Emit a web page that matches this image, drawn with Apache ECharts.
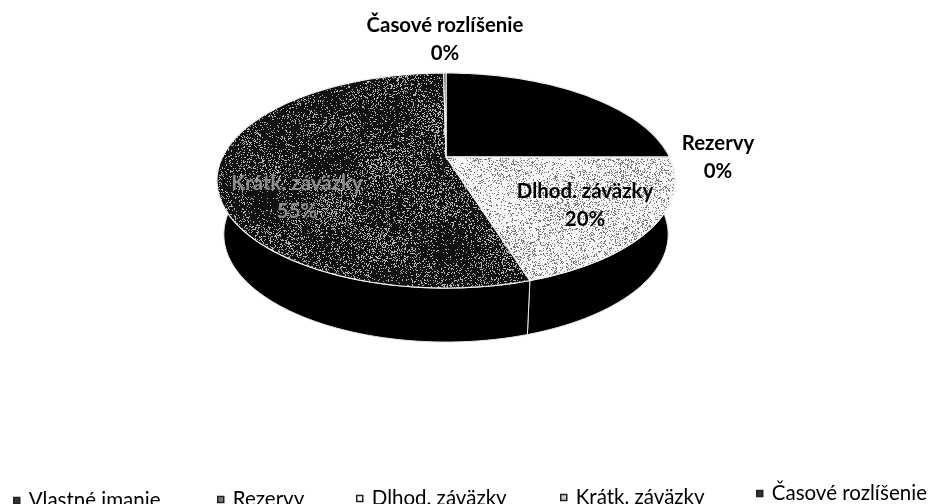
<!DOCTYPE html>
<html>
<head>
<meta charset="utf-8">
<style>
html, body { margin: 0; padding: 0; background: #fff; }
#chart { width: 928px; height: 504px; }
</style>
<script src="https://cdn.jsdelivr.net/npm/echarts@6/dist/echarts.min.js"></script>
</head>
<body>
<div id="chart"></div>
<script>
var categories = ['Vlastné imanie', 'Rezervy', 'Dlhod. záväzky', 'Krátk. záväzky', 'Časové rozlíšenie'];
var shares = [25, 0.2, 20, 54.6, 0.2];

var FONT = 'Lato';
var BOLD_SIZE = 20.4;
var LEGEND_SIZE = 20.5;

// tilted disc: apex of the slices, radii and perspective
var PIE = { x: 446, y: 157, a: 223.5, b: 102.4, k: 0.2186, depth: 54, shrink: 0.97 };

// scanned look, dots from a fixed hash
function hash(x, y) {
  var h = Math.sin(x * 12.9898 + y * 78.233) * 43758.5453;
  return h - Math.floor(h);
}
function stipple(on, off, density, swing) {
  var size = 480;
  var c = document.createElement('canvas');
  c.width = c.height = size;
  var ctx = c.getContext('2d');
  ctx.fillStyle = off;
  ctx.fillRect(0, 0, size, size);
  ctx.fillStyle = on;
  for (var y = 0; y < size; y++) {
    for (var x = 0; x < size; x++) {
      var wave = Math.sin(x / 19) * Math.cos(y / 13) + 0.5 * Math.sin((x + y) / 41);
      if (hash(x, y) < density + swing * wave) ctx.fillRect(x, y, 1, 1);
    }
  }
  return { image: c, repeat: 'repeat' };
}
var fills = [
  '#000',
  '#777',
  stipple('#777', '#f6f6f6', 0.2, 0.06),
  stipple('#b5b5b5', '#111', 0.2, 0.1),
  '#333'
];
var markerFills = ['#333', '#777', '#fff', '#ccc', '#333'];

var labelSpots = [
  null,
  { x: 718, y: 143, color: '#000' },
  { x: 585, y: 191, color: '#000' },
  { x: 297, y: 183, color: '#8c8c8c' },
  { x: 445, y: 25, color: '#000' }
];
var legendSpots = [
  { left: 13, top: 490 },
  { left: 217, top: 489 },
  { left: 356, top: 488 },
  { left: 560, top: 487 },
  { left: 756, top: 483 }
];

function rim(f) {
  var t = f / 100 * Math.PI * 2;
  var u = Math.sin(t), v = -Math.cos(t);
  var w = 1 - PIE.k * v;
  return [PIE.x + PIE.a * u / w, PIE.y + PIE.b * v / w];
}
function arc(from, to) {
  var n = Math.max(2, Math.ceil((to - from) * 2));
  var pts = [];
  for (var i = 0; i <= n; i++) pts.push(rim(from + (to - from) * i / n));
  return pts;
}
function lower(p) {
  return [PIE.x + (p[0] - PIE.x) * PIE.shrink, p[1] + PIE.depth];
}

function renderSlice(params, api) {
  var i = params.seriesIndex;
  var value = api.value(0);
  var start = api.value(1);
  var edge = arc(start, start + value);
  var children = [{
    type: 'polygon',
    z2: 1,
    shape: { points: edge.concat(edge.map(lower).reverse()) },
    style: { fill: '#000', stroke: '#e8e8e8', lineWidth: 1 }
  }, {
    type: 'polygon',
    z2: 10,
    shape: { points: [[PIE.x, PIE.y]].concat(edge) },
    style: { fill: fills[i], stroke: '#f2f2f2', lineWidth: 1.2 }
  }];
  var spot = labelSpots[i];
  if (spot) {
    children.push({
      type: 'text',
      z2: 20,
      style: {
        x: spot.x,
        y: spot.y + 14,
        text: categories[i] + '\n' + Math.round(value) + '%',
        fill: spot.color,
        font: 'bold ' + BOLD_SIZE + 'px ' + FONT,
        lineHeight: 28,
        align: 'center',
        verticalAlign: 'middle'
      }
    });
  }
  return { type: 'group', children: children };
}

var running = 0;
var series = categories.map(function (name, i) {
  var start = running;
  running += shares[i];
  return {
    name: name,
    type: 'custom',
    coordinateSystem: 'none',
    renderItem: renderSlice,
    silent: true,
    data: [[shares[i], start]]
  };
});

var legends = categories.map(function (name, i) {
  return {
    left: legendSpots[i].left,
    top: legendSpots[i].top,
    padding: 0,
    selectedMode: false,
    itemWidth: 6,
    itemHeight: 6,
    itemGap: 0,
    textStyle: { fontFamily: FONT, fontSize: LEGEND_SIZE, color: '#000', padding: [0, 0, 0, 4] },
    data: [{
      name: name,
      icon: 'rect',
      itemStyle: { color: markerFills[i], borderColor: '#222', borderWidth: 1.5 }
    }]
  };
});

var chart = echarts.init(document.getElementById('chart'));
chart.setOption({
  backgroundColor: '#fff',
  animation: false,
  legend: legends,
  series: series
});
</script>
</body>
</html>
